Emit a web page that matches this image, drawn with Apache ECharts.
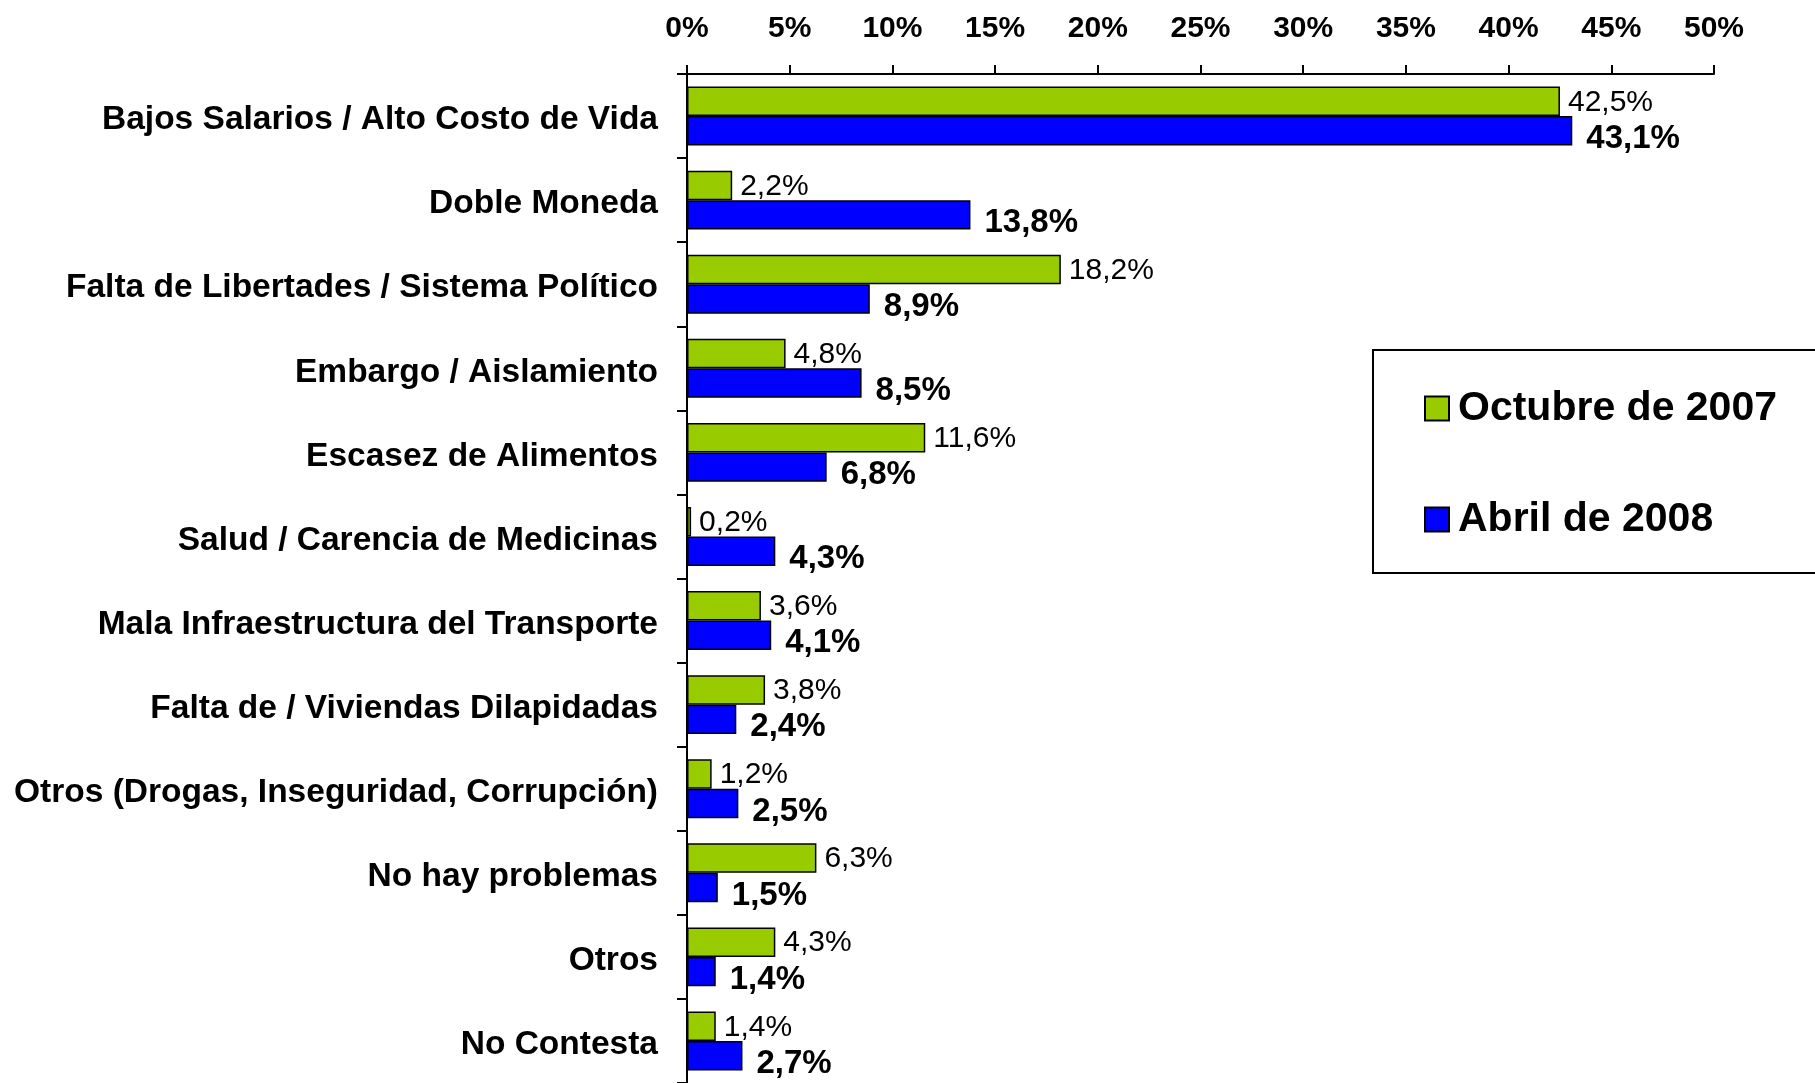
<!DOCTYPE html>
<html>
<head>
<meta charset="utf-8">
<script src="https://cdn.jsdelivr.net/npm/echarts@6/dist/echarts.min.js"></script>
<style>
  html, body { margin: 0; padding: 0; background: #fff; }
  #chart { width: 1815px; height: 1083px; }
</style>
</head>
<body>
<div id="chart"></div>
<script>
var categories = [
  'Bajos Salarios / Alto Costo de Vida',
  'Doble Moneda',
  'Falta de Libertades / Sistema Político',
  'Embargo / Aislamiento',
  'Escasez de Alimentos',
  'Salud / Carencia de Medicinas',
  'Mala Infraestructura del Transporte',
  'Falta de / Viviendas Dilapidadas',
  'Otros (Drogas, Inseguridad, Corrupción)',
  'No hay problemas',
  'Otros',
  'No Contesta'
];
var octubre2007 = [42.5, 2.2, 18.2, 4.8, 11.6, 0.2, 3.6, 3.8, 1.2, 6.3, 4.3, 1.4];
var abril2008 = [43.1, 13.8, 8.9, 8.5, 6.8, 4.3, 4.1, 2.4, 2.5, 1.5, 1.4, 2.7];
var seriesNames = ['Octubre de 2007', 'Abril de 2008'];

var FONT = "'Liberation Sans', Arial, Helvetica, sans-serif";

function pct(v) {
  return v.toFixed(1).replace('.', ',') + '%';
}

var chart = echarts.init(document.getElementById('chart'));

var option = {
  backgroundColor: '#fff',
  animation: false,
  textStyle: { fontFamily: FONT, color: '#000' },
  grid: {
    left: 687,
    top: 74,
    width: 1027,
    height: 1022,
    containLabel: false
  },
  legend: {
    data: seriesNames,
    orient: 'vertical',
    left: 1373,
    top: 350,
    padding: [38, 120, 33, 51],
    itemGap: 70,
    itemWidth: 24,
    itemHeight: 24,
    icon: 'rect',
    borderColor: '#000',
    borderWidth: 2,
    backgroundColor: '#fff',
    textStyle: {
      fontFamily: FONT,
      fontSize: 41,
      fontWeight: 'bold',
      color: '#000',
      lineHeight: 40,
      padding: [0, 0, 0, 4]
    }
  },
  xAxis: {
    type: 'value',
    position: 'top',
    min: 0,
    max: 50,
    interval: 5,
    splitLine: { show: false },
    axisLine: { show: true, lineStyle: { color: '#000', width: 2 } },
    axisTick: { show: true, inside: false, length: 9, lineStyle: { color: '#000', width: 2 } },
    axisLabel: {
      margin: 30,
      fontFamily: FONT,
      fontSize: 30,
      fontWeight: 'bold',
      color: '#000',
      formatter: '{value}%'
    }
  },
  yAxis: {
    type: 'category',
    data: categories,
    inverse: true,
    axisLine: { show: true, lineStyle: { color: '#000', width: 2 } },
    axisTick: { show: true, inside: false, length: 10, alignWithLabel: false, lineStyle: { color: '#000', width: 2 } },
    axisLabel: {
      margin: 29,
      color: '#000',
      formatter: function(v) { return '{c|' + v + '}'; },
      rich: {
        c: {
          fontFamily: FONT,
          fontSize: 33.5,
          fontWeight: 'bold',
          color: '#000',
          padding: [8, 0, 0, 0]
        }
      }
    }
  },
  series: [
    {
      name: seriesNames[0],
      type: 'bar',
      data: octubre2007,
      barGap: '0%',
      barCategoryGap: '30%',
      itemStyle: { color: '#99CC00', borderColor: '#000', borderWidth: 1.5 },
      label: {
        show: true,
        position: 'right',
        distance: 8,
        offset: [0, 1],
        fontFamily: FONT,
        fontSize: 30,
        fontWeight: 'normal',
        color: '#000',
        formatter: function(p) { return pct(p.value); }
      }
    },
    {
      name: seriesNames[1],
      type: 'bar',
      data: abril2008,
      barGap: '0%',
      barCategoryGap: '30%',
      itemStyle: { color: '#0000FF', borderColor: '#000', borderWidth: 1.5 },
      label: {
        show: true,
        position: 'right',
        distance: 14,
        offset: [0, 8],
        fontFamily: FONT,
        fontSize: 33,
        fontWeight: 'bold',
        color: '#000',
        formatter: function(p) { return pct(p.value); }
      }
    }
  ]
};

chart.setOption(option);
</script>
</body>
</html>
